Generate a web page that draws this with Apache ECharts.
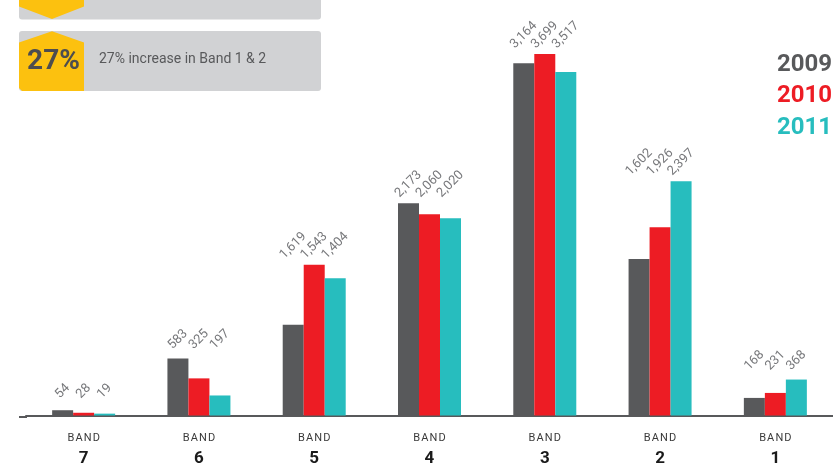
<!DOCTYPE html>
<html>
<head>
<meta charset="utf-8">
<script src="https://cdn.jsdelivr.net/npm/echarts@6/dist/echarts.min.js"></script>
<style>
html,body{margin:0;padding:0;background:#fff;}
#chart{width:833px;height:467px;}
</style>
</head>
<body>
<div id="chart"></div>
<script>
// Categories (Band numbers)
const categories = ['7', '6', '5', '4', '3', '2', '1'];
const years = ['2009', '2010', '2011'];
// Bar heights as drawn in the picture
const bars2009 = [54, 583, 930, 2173, 3605, 1602, 180];
const bars2010 = [28, 380, 1543, 2060, 3699, 1926, 231];
const bars2011 = [19, 205, 1404, 2020, 3517, 2397, 368];
// Printed value labels
const labels2009 = ['54', '583', '1,619', '2,173', '3,164', '1,602', '168'];
const labels2010 = ['28', '325', '1,543', '2,060', '3,699', '1,926', '231'];
const labels2011 = ['19', '197', '1,404', '2,020', '3,517', '2,397', '368'];
// Badge text
const badgeValue = '27%';
const badgeText = '27% increase in Band 1 & 2';

const colors = ['#58595b', '#ed1c24', '#27bdbe'];
const barSets = [bars2009, bars2010, bars2011];
const labelSets = [labels2009, labels2010, labels2011];
const groupMax = categories.map((c, i) => Math.max(bars2009[i], bars2010[i], bars2011[i]));

const FONT = 'Roboto, "Noto Sans", sans-serif';
const hs = '\u200A';
const bandWord = ['B', 'A', 'N', 'D'].join(hs);

const barSeries = years.map((y, k) => ({
  name: y,
  type: 'bar',
  xAxisIndex: 0,
  barWidth: 21,
  barGap: '0%',
  data: barSets[k],
  itemStyle: { color: colors[k] },
  silent: true
}));

const labelSeries = years.map((y, k) => ({
  name: 'label-' + y,
  type: 'bar',
  xAxisIndex: 1,
  barWidth: 21,
  barGap: '0%',
  data: groupMax,
  itemStyle: { color: 'rgba(0,0,0,0)' },
  silent: true,
  z: 5,
  label: {
    show: true,
    position: 'top',
    distance: 19,
    rotate: 45,
    align: 'center',
    verticalAlign: 'middle',
    color: '#77787b',
    fontSize: 13,
    fontFamily: FONT,
    formatter: p => labelSets[k][p.dataIndex]
  }
}));

const chart = echarts.init(document.getElementById('chart'), null, { renderer: 'canvas' });
chart.setOption({
  animation: false,
  backgroundColor: '#ffffff',
  grid: { left: 26, right: -1, top: 0, bottom: 50, containLabel: false },
  xAxis: [
    {
      type: 'category',
      data: categories,
      axisLine: { show: true, lineStyle: { color: '#58595b', width: 2 } },
      axisTick: { show: false },
      axisLabel: {
        margin: 16,
        interval: 0,
        formatter: v => '{a|' + bandWord + '}\n{b|' + v + '}',
        rich: {
          a: { fontSize: 11, lineHeight: 14, color: '#3a3a3a', fontFamily: FONT },
          b: { fontSize: 17, lineHeight: 26, color: '#1a1a1a', fontWeight: 'bold', fontFamily: FONT }
        }
      }
    },
    {
      type: 'category',
      data: categories,
      show: false
    }
  ],
  yAxis: {
    type: 'value',
    min: 0,
    max: 4253,
    show: false,
    splitLine: { show: false }
  },
  series: barSeries.concat(labelSeries),
  graphic: [
    // axis line extension to the left
    { type: 'line', shape: { x1: 19, y1: 417, x2: 27, y2: 417 }, style: { stroke: '#58595b', lineWidth: 2 }, silent: true },
    // top (cut-off) badge
    { type: 'rect', shape: { x: 19, y: -20, width: 302, height: 39.5, r: 3 }, style: { fill: '#d1d2d4' }, silent: true },
    { type: 'polygon', shape: { points: [[19, -20], [84, -20], [84, 6.5], [52, 19], [19, 6.5]] }, style: { fill: '#fcc10f' }, silent: true },
    // second badge
    { type: 'rect', shape: { x: 19, y: 31, width: 302, height: 60, r: 3 }, style: { fill: '#d1d2d4' }, silent: true },
    { type: 'polygon', shape: { points: [[19, 42.5], [52, 31.3], [84, 42.5], [84, 91], [22, 91], [19, 88]] }, style: { fill: '#fcc10f' }, silent: true },
    { type: 'text', x: 53.5, y: 62, style: { text: badgeValue, fill: '#4d4d4f', font: 'bold 28px ' + FONT, align: 'center', verticalAlign: 'middle' }, silent: true },
    { type: 'text', x: 99, y: 59.5, style: { text: badgeText, fill: '#58595b', font: '14px ' + FONT, align: 'left', verticalAlign: 'middle' }, silent: true },
    // legend years
    { type: 'text', x: 777, y: 64.5, style: { text: years[0], fill: colors[0], font: 'bold 24px ' + FONT, align: 'left', verticalAlign: 'middle' }, silent: true },
    { type: 'text', x: 777, y: 96, style: { text: years[1], fill: colors[1], font: 'bold 24px ' + FONT, align: 'left', verticalAlign: 'middle' }, silent: true },
    { type: 'text', x: 777, y: 128, style: { text: years[2], fill: colors[2], font: 'bold 24px ' + FONT, align: 'left', verticalAlign: 'middle' }, silent: true }
  ]
});
</script>
</body>
</html>
